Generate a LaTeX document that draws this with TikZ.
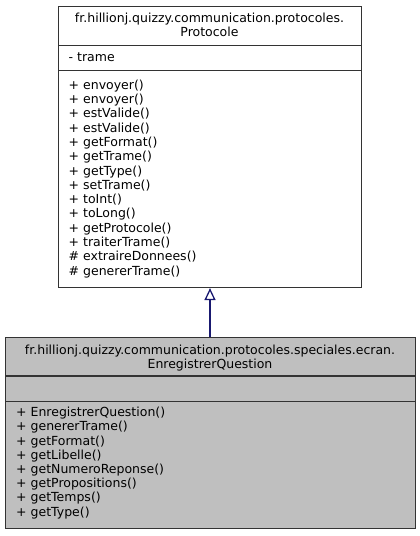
\documentclass[tikz,border=0pt]{standalone}
\usepackage{fontspec}
\setmainfont{DejaVu Sans}
\usetikzlibrary{arrows.meta}
\definecolor{edgec}{HTML}{191970}
\definecolor{boxline}{HTML}{333333}
\definecolor{subfill}{HTML}{BFBFBF}
\tikzset{
  classbox/.style={draw=boxline, line width=1.1pt, rectangle, inner sep=0pt, anchor=north west},
  titletext/.style={font=\fontsize{12.5}{14}\selectfont, anchor=base, inner sep=0pt},
  membertext/.style={font=\fontsize{12.5}{14}\selectfont, anchor=base west, inner sep=0pt},
  divider/.style={draw=boxline, line width=1.1pt},
  inherit/.style={draw=edgec, line width=1.3pt, -{Triangle[open, length=12pt, width=11pt]}}
}
\begin{document}
\begin{tikzpicture}[x=1pt,y=-1pt]
\useasboundingbox (0,0) rectangle (420,536);
% base class
\node[classbox, minimum width=303pt, minimum height=281pt] (base) at (58,6) {};
\draw[divider] (58,45.5) -- (361,45.5);
\draw[divider] (58,70.5) -- (361,70.5);
\node[titletext] (bt1) at (209.5,22.3) {fr.hillionj.quizzy.communication.protocoles.};
\node[titletext] (bt2) at (209.5,36.6) {Protocole};
\node[membertext] (ba1) at (68.5,61.5) {- trame};
\foreach \t [count=\i] in {+ envoyer(),+ envoyer(),+ estValide(),+ estValide(),+ getFormat(),+ getTrame(),+ getType(),+ setTrame(),+ toInt(),+ toLong(),+ getProtocole(),+ traiterTrame(),\# extraireDonnees(),\# genererTrame()}
  \node[membertext] (bm\i) at (68.5,{89.2+(\i-1)*14.3}) {\t};
% derived class
\node[classbox, fill=subfill, minimum width=410pt, minimum height=191pt] (sub) at (5,337) {};
\draw[divider] (5,376) -- (415,376);
\draw[divider] (5,401.5) -- (415,401.5);
\node[titletext] (st1) at (210,354) {fr.hillionj.quizzy.communication.protocoles.speciales.ecran.};
\node[titletext] (st2) at (210,368.3) {EnregistrerQuestion};
\foreach \t [count=\i] in {+ EnregistrerQuestion(),+ genererTrame(),+ getFormat(),+ getLibelle(),+ getNumeroReponse(),+ getPropositions(),+ getTemps(),+ getType()}
  \node[membertext] (sm\i) at (16,{416.7+(\i-1)*14.2}) {\t};
% inheritance
\draw[inherit] (sub.north -| 210,0) -- (base.south -| 210,0);
\end{tikzpicture}
\end{document}
